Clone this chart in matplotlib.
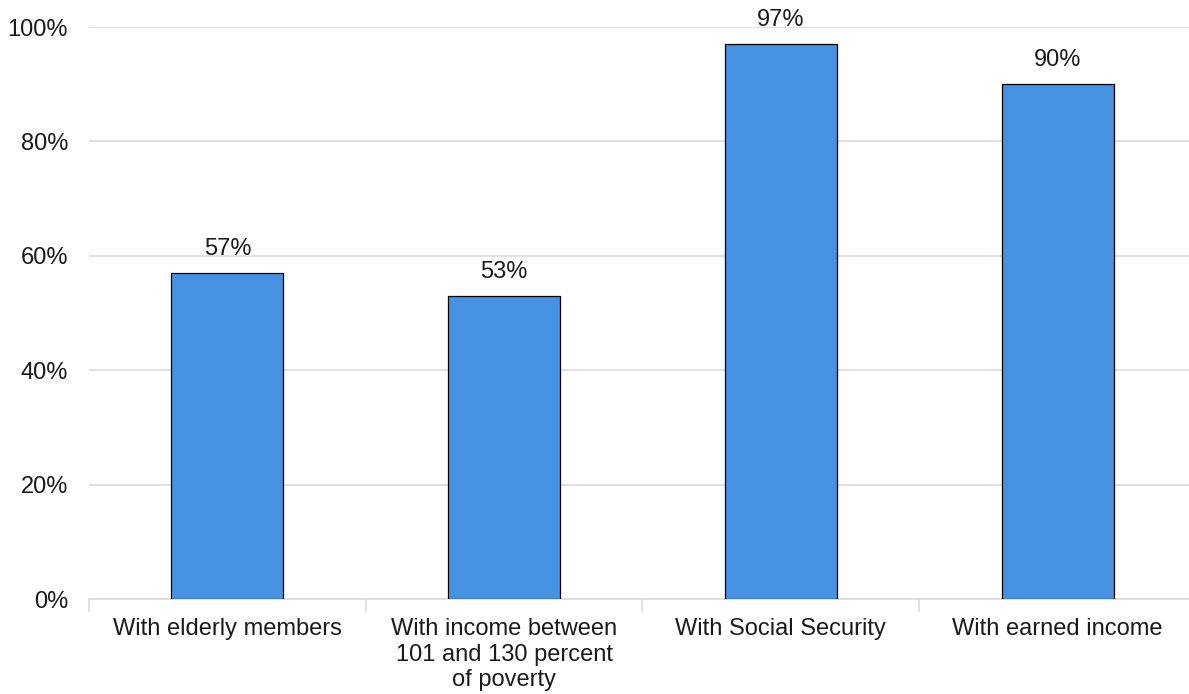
import numpy as np
import matplotlib.pyplot as plt
from matplotlib.ticker import FixedLocator, PercentFormatter

# ---------- Data ----------

categories = ['With elderly members',
              'With income between\n101 and 130 percent\nof poverty',
              'With Social Security',
              'With earned income']
values = [57, 53, 97, 90]
yticks = [0, 20, 40, 60, 80, 100]

# ---------- Plot ----------

plt.rcParams['font.family'] = ['Liberation Sans', 'DejaVu Sans']
fig = plt.figure(figsize=(11.89, 6.94), dpi=100)
ax = fig.add_axes([89/1189, 1-599/694, (1196-89)/1189, (599-27)/694])

x = np.arange(len(categories))
bars = ax.bar(x, values, width=0.405, color='#4691E2', edgecolor='black', linewidth=0.9, zorder=3)
for b, v in zip(bars, values):
    ax.annotate(f'{v}%', (b.get_x()+b.get_width()/2, v), xytext=(0, 13), textcoords='offset pixels',
                ha='center', va='bottom', fontsize=17, color='#1a1a1a')

ax.set_xlim(-0.5, len(categories)-0.5)
ax.set_ylim(0, 100)
ax.set_yticks(yticks)
ax.yaxis.set_major_formatter(PercentFormatter(decimals=0))
ax.grid(axis='y', color='#d9d9d9', linewidth=1.1, zorder=0)
ax.set_xticks(x)
ax.set_xticklabels(categories, fontsize=17, color='#1a1a1a', linespacing=1.2)
ax.xaxis.set_minor_locator(FixedLocator(np.arange(-0.5, len(categories), 1)))
ax.tick_params(axis='x', which='major', length=0, pad=14)
ax.tick_params(axis='x', which='minor', length=9, color='#d9d9d9', width=1.1)
ax.tick_params(axis='y', length=0, pad=15, labelsize=17, labelcolor='#1a1a1a')
for s in ['top', 'right', 'left']:
    ax.spines[s].set_visible(False)
ax.spines['bottom'].set_color('#d9d9d9')
ax.spines['bottom'].set_linewidth(1.1)

plt.savefig('out.png', dpi=100)
